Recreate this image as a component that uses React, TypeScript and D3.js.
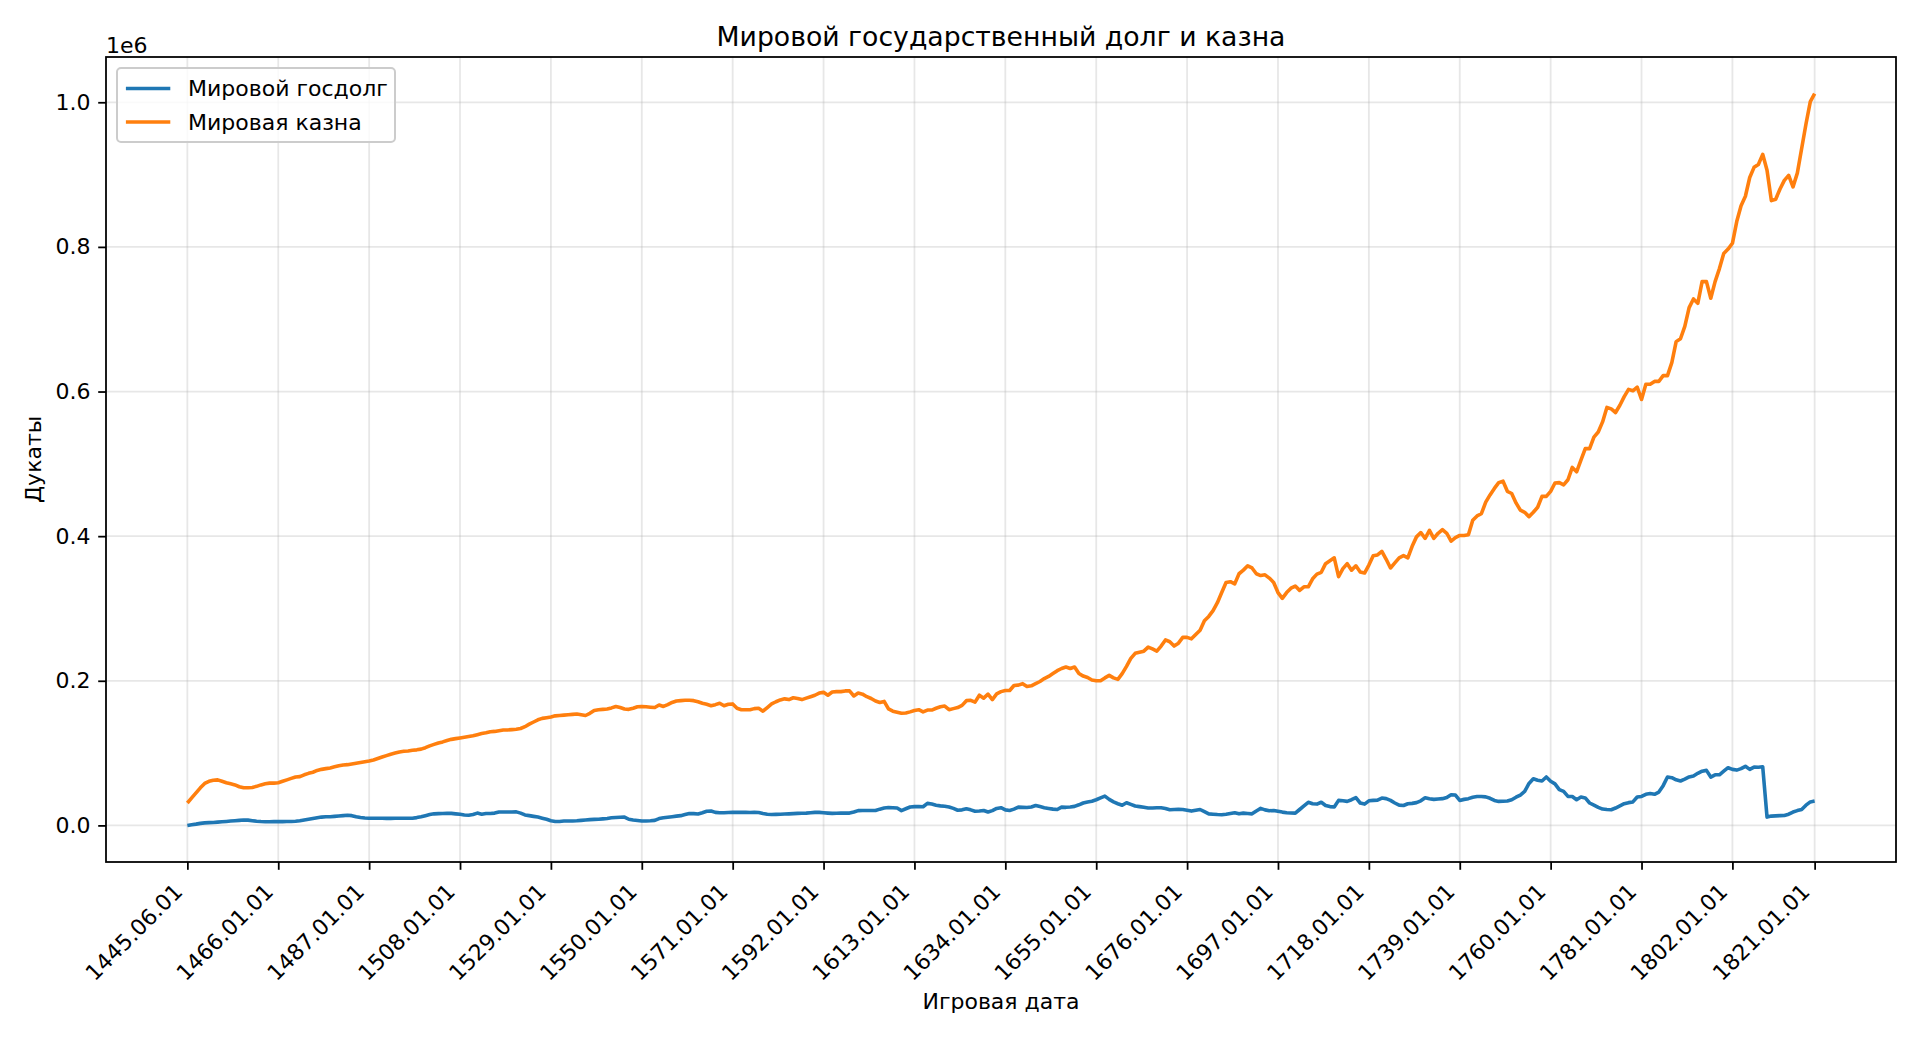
import { useEffect, useRef } from "react"
import * as d3 from "d3"

// yearly samples, first one is the start date
const dates = ["1445.06.01", ...d3.range(1446, 1822).map((y) => `${y}.01.01`)]

const tickLabels = [
  "1445.06.01", "1466.01.01", "1487.01.01", "1508.01.01", "1529.01.01", "1550.01.01",
  "1571.01.01", "1592.01.01", "1613.01.01", "1634.01.01", "1655.01.01", "1676.01.01",
  "1697.01.01", "1718.01.01", "1739.01.01", "1760.01.01", "1781.01.01", "1802.01.01",
  "1821.01.01",
]

const seriesNames = ["Мировой госдолг", "Мировая казна"]

// thousands of ducats, one value per date
const debt = [
  0, 1, 1.8, 2.8, 3.5, 3.8, 4, 4.5, 5, 5.5, 6, 6.5, 7, 7.5, 7.3, 6.5, 5.8, 5.3, 5, 5,
  5.2, 5.3, 5.3, 5.5, 5.5, 5.8, 6.5, 7.5, 8.5, 9.5, 10.5, 11.5, 12, 12, 12.5, 13, 13.5, 14, 13.5, 12,
  11, 10.3, 10, 10, 10, 9.8, 9.7, 9.7, 9.8, 10, 10, 10, 10, 10.8, 12, 13.5, 15, 16, 16.3, 16.5,
  16.6, 16.6, 16, 15.5, 14.5, 14, 15, 17, 15.5, 16.5, 16.5, 17, 18.5, 18.5, 18.5, 18.5, 18.7, 17, 14.5, 13.5,
  12.5, 11.5, 10, 8.5, 6.5, 5.5, 5.5, 6, 6, 6.2, 6.4, 7, 7.5, 8, 8.3, 8.5, 9, 9.5, 10.5, 11,
  11.3, 11.5, 8.5, 7.5, 6.8, 6, 6.2, 6.5, 7, 9.5, 10.5, 11.3, 12, 12.8, 13.5, 15, 16.5, 16.3, 15.8, 17.5,
  19.5, 20, 18, 17.5, 17.5, 17.8, 18, 18, 18, 18.2, 17.8, 18, 17.8, 16.5, 15.5, 15, 15.3, 15.5, 15.8, 16,
  16.3, 16.6, 16.8, 17, 17.5, 18, 18, 17.5, 17, 16.6, 16.8, 17, 17, 17, 18.5, 20.5, 20.7, 20.7, 20.7, 20.7,
  22.5, 24, 24.8, 24.5, 24, 20.5, 23, 25.5, 26, 26, 25.8, 30.5, 29.5, 27.8, 27, 26.5, 25.5, 23.5, 21, 21.5,
  23, 21.5, 19.5, 20, 20.7, 18.5, 20.5, 23.5, 24.5, 21.5, 20.7, 22.5, 25.3, 25, 24.8, 25.5, 27.5, 26, 24.5, 23.5,
  22.5, 22, 25.3, 25, 25.5, 26.3, 28.5, 31, 32.5, 33.5, 35.5, 38, 40.5, 36, 32.5, 30, 27.8, 31.3, 29, 26.8,
  26, 25, 24, 24, 24.5, 24.4, 23.5, 21.7, 22, 22.2, 22, 21, 19.8, 21, 22, 19, 16, 15.5, 15, 14.7,
  15.5, 16.5, 17.5, 16, 17, 16.5, 16, 20, 23.5, 21.5, 20.3, 20.7, 19.5, 18.4, 17.5, 17.2, 17, 22, 27, 32,
  30, 29.5, 32, 27.5, 26, 25.4, 34.6, 34, 33.2, 35.5, 38.3, 31, 29.5, 34, 34.6, 35, 37.8, 37, 34.6, 31,
  28, 27.5, 30, 30.5, 31.5, 34, 38.3, 37, 36, 36.5, 37, 38.5, 42.4, 42, 34.6, 36, 37, 39, 40, 40,
  39.5, 37.5, 34.5, 33.2, 33.4, 33.7, 35.5, 39, 42, 47, 58, 64.5, 62.5, 61.4, 67, 61, 57.5, 49.4, 47, 40.1,
  40, 35.5, 39.2, 38, 31, 28, 25, 22.6, 22, 21.7, 24, 27, 30, 31.5, 32.5, 39.2, 40, 43, 44, 43,
  46.1, 55, 66.9, 66, 63, 61.4, 64, 67, 68.3, 72, 75, 76.1, 66.9, 70, 70, 75, 79.8, 77.5, 76.5, 78.5,
  81.7, 77.5, 80.7, 80.5, 81.2, 11.5, 12.9, 13.2, 13.5, 13.8, 15.5, 18.5, 20.5, 22.1, 28, 32.5, 33.7,
]

const treasury = [
  31, 38, 45, 52, 58, 61, 62.5, 63, 61, 59, 57.5, 56, 53.5, 52, 52, 52.5, 54, 56, 57.5, 58.5,
  58.5, 59, 61, 63, 65, 67, 67.5, 70, 72, 73.5, 76, 77.5, 78.5, 79.5, 81, 82.5, 83.5, 84, 85, 86,
  87, 88, 89, 90.5, 92.5, 94.5, 96.5, 98.5, 100, 101.5, 102.5, 103, 104, 104.5, 105.5, 107.5, 110, 112, 114, 115.5,
  117.5, 119, 120, 121, 122, 123, 124, 125.5, 127, 128, 129.5, 130, 131, 132, 132, 132.5, 133, 134, 136.5, 140,
  143, 146, 148, 149, 150, 151.5, 152, 152.5, 153, 153.5, 154, 153, 152, 155, 159, 160, 160.5, 161, 162.5, 164.5,
  163, 161, 160.5, 162, 164, 164.5, 164, 163.5, 163, 166.5, 164.5, 167, 170, 172, 172.5, 173, 173, 172.5, 171, 169,
  167.5, 165.5, 167, 169, 165.5, 167.5, 168, 162, 160, 160, 160, 161.5, 162, 158, 163, 168, 171, 173.5, 175, 174,
  176.5, 175.5, 174, 176, 178, 180, 183, 184, 180, 184.5, 185, 185, 186, 186, 179, 183, 181.5, 178, 175.5, 172,
  170, 171.5, 161, 158, 156.5, 155, 155.5, 157, 159, 160, 157, 159.5, 159.5, 162, 164, 165, 160, 161.5, 163, 166,
  172.5, 173, 170.5, 180, 176, 181.5, 174, 182, 185, 186.5, 186.5, 193.5, 194, 196, 192, 193, 196, 199, 203, 206,
  210, 214, 217, 219, 217, 219, 210, 206.5, 204.5, 201, 200, 200, 204, 207.5, 204, 202, 210, 220, 231, 238,
  239.5, 241, 246.5, 244, 241, 248, 256.5, 254, 248, 252, 260, 260, 258, 264, 270, 283, 289, 297, 308, 322,
  336, 337, 334, 348, 353, 359, 356, 348, 345.5, 346.5, 342, 336, 322, 314, 322, 328, 331, 325, 330, 330,
  341, 347.5, 350, 362, 366, 370, 344, 355, 362, 353, 359, 350.5, 349, 360, 373, 374, 379, 368, 356, 363,
  370, 373, 370, 386, 399, 405, 397, 408, 397, 404, 409, 404, 393, 398, 401, 401, 402, 422, 428, 431,
  447, 457, 466, 474, 476, 462, 459, 446, 436, 433, 427, 433, 440, 455, 455, 462, 473.5, 474, 471, 478,
  495, 489, 505, 521, 521, 537, 544, 558, 578, 576, 571, 581, 593, 603, 601, 606, 589, 610, 610, 614,
  614, 622, 622, 640, 669, 673, 690, 716, 728, 722, 752, 752, 729, 752, 770, 791, 797, 805, 835, 857,
  870, 896, 910, 914, 928, 906, 864, 866, 880, 892, 899, 883, 902, 936, 970, 1001, 1012,
]

const colors = ["#1f77b4", "#ff7f0e"]
const font = "DejaVu Sans, sans-serif"
const fs = 22 // ~10pt at 160 dpi

export default function App() {
  const svgRef = useRef<SVGSVGElement | null>(null)

  useEffect(() => {
    if (!svgRef.current) return
    const root = d3.select(svgRef.current)
    root.selectAll("*").remove()

    const width = 1920
    const height = 1040
    const margin = { top: 57, right: 24, bottom: 178, left: 106 }
    const w = width - margin.left - margin.right
    const h = height - margin.top - margin.bottom

    const series = [debt, treasury].map((arr) => arr.map((v, i) => ({ i, v: v * 1000 })))

    // matplotlib-like 5% margins
    const n = dates.length - 1
    const x = d3
      .scaleLinear()
      .domain([-0.05 * n, n * 1.05])
      .range([0, w])

    const allV = series.flat().map((d) => d.v)
    const [vMin, vMax] = d3.extent(allV) as [number, number]
    const pad = (vMax - vMin) * 0.05
    const y = d3
      .scaleLinear()
      .domain([vMin - pad, vMax + pad])
      .range([h, 0])

    const g = root.append("g").attr("transform", `translate(${margin.left},${margin.top})`)

    const xTicks = tickLabels.map((t) => dates.indexOf(t))
    const yTicks = d3.range(0, 1.0001e6, 0.2e6)

    // grid
    g.append("g")
      .selectAll("line")
      .data(xTicks)
      .join("line")
      .attr("x1", (d) => x(d))
      .attr("x2", (d) => x(d))
      .attr("y1", 0)
      .attr("y2", h)
      .attr("stroke", "#b0b0b0")
      .attr("stroke-opacity", 0.3)
      .attr("stroke-width", 1.78)
    g.append("g")
      .selectAll("line")
      .data(yTicks)
      .join("line")
      .attr("x1", 0)
      .attr("x2", w)
      .attr("y1", (d) => y(d))
      .attr("y2", (d) => y(d))
      .attr("stroke", "#b0b0b0")
      .attr("stroke-opacity", 0.3)
      .attr("stroke-width", 1.78)

    // lines
    const line = d3
      .line<{ i: number; v: number }>()
      .x((d) => x(d.i))
      .y((d) => y(d.v))

    series.forEach((s, k) => {
      g.append("path")
        .datum(s)
        .attr("fill", "none")
        .attr("stroke", colors[k])
        .attr("stroke-width", 3.6)
        .attr("stroke-linejoin", "round")
        .attr("d", line)
    })

    // frame
    g.append("rect")
      .attr("width", w)
      .attr("height", h)
      .attr("fill", "none")
      .attr("stroke", "#000")
      .attr("stroke-width", 1.78)

    // x axis
    const xa = g.append("g").attr("transform", `translate(0,${h})`)
    xa.call(
      d3
        .axisBottom(x)
        .tickValues(xTicks)
        .tickSize(7.8)
        .tickPadding(7.8)
        .tickFormat((d) => dates[d as number]),
    )
    xa.select(".domain").remove()
    xa.selectAll("line").attr("stroke-width", 1.78)
    xa.selectAll("text")
      .attr("font-family", font)
      .attr("font-size", fs)
      .attr("fill", "#000")
      .attr("text-anchor", "end")
      .attr("dy", null)
      .attr("y", 0)
      .attr("transform", "translate(-4,31) rotate(-45)")

    // y axis
    const ya = g.append("g")
    ya.call(
      d3
        .axisLeft(y)
        .tickValues(yTicks)
        .tickSize(7.8)
        .tickPadding(7.8)
        .tickFormat((d) => ((d as number) / 1e6).toFixed(1)),
    )
    ya.select(".domain").remove()
    ya.selectAll("line").attr("stroke-width", 1.78)
    ya.selectAll("text").attr("font-family", font).attr("font-size", fs).attr("fill", "#000")

    // offset text
    g.append("text")
      .attr("x", 0)
      .attr("y", -4)
      .attr("font-family", font)
      .attr("font-size", fs)
      .text("1e6")

    // title and labels
    g.append("text")
      .attr("x", w / 2)
      .attr("y", -11)
      .attr("text-anchor", "middle")
      .attr("font-family", font)
      .attr("font-size", 26.7)
      .text("Мировой государственный долг и казна")

    g.append("text")
      .attr("x", w / 2)
      .attr("y", h + 146.5)
      .attr("text-anchor", "middle")
      .attr("font-family", font)
      .attr("font-size", fs)
      .text("Игровая дата")

    g.append("text")
      .attr("transform", `translate(${-65},${h / 2}) rotate(-90)`)
      .attr("text-anchor", "middle")
      .attr("font-family", font)
      .attr("font-size", fs)
      .text("Дукаты")

    // legend
    const lg = g.append("g").attr("transform", "translate(11,11)")
    lg.append("rect")
      .attr("width", 278)
      .attr("height", 74)
      .attr("rx", 4)
      .attr("fill", "#fff")
      .attr("fill-opacity", 0.8)
      .attr("stroke", "#cccccc")
      .attr("stroke-width", 2)
    seriesNames.forEach((name, k) => {
      const cy = 20.5 + k * 33.5
      lg.append("line")
        .attr("x1", 8.9)
        .attr("x2", 53.3)
        .attr("y1", cy)
        .attr("y2", cy)
        .attr("stroke", colors[k])
        .attr("stroke-width", 3.6)
      lg.append("text")
        .attr("x", 71)
        .attr("y", cy + 7.8)
        .attr("font-family", font)
        .attr("font-size", fs)
        .text(name)
    })
  }, [])

  return (
    <div style={{ position: "fixed", left: 0, top: 0 }}>
      <svg ref={svgRef} width={1920} height={1040} style={{ display: "block", background: "#fff" }}></svg>
    </div>
  )
}
